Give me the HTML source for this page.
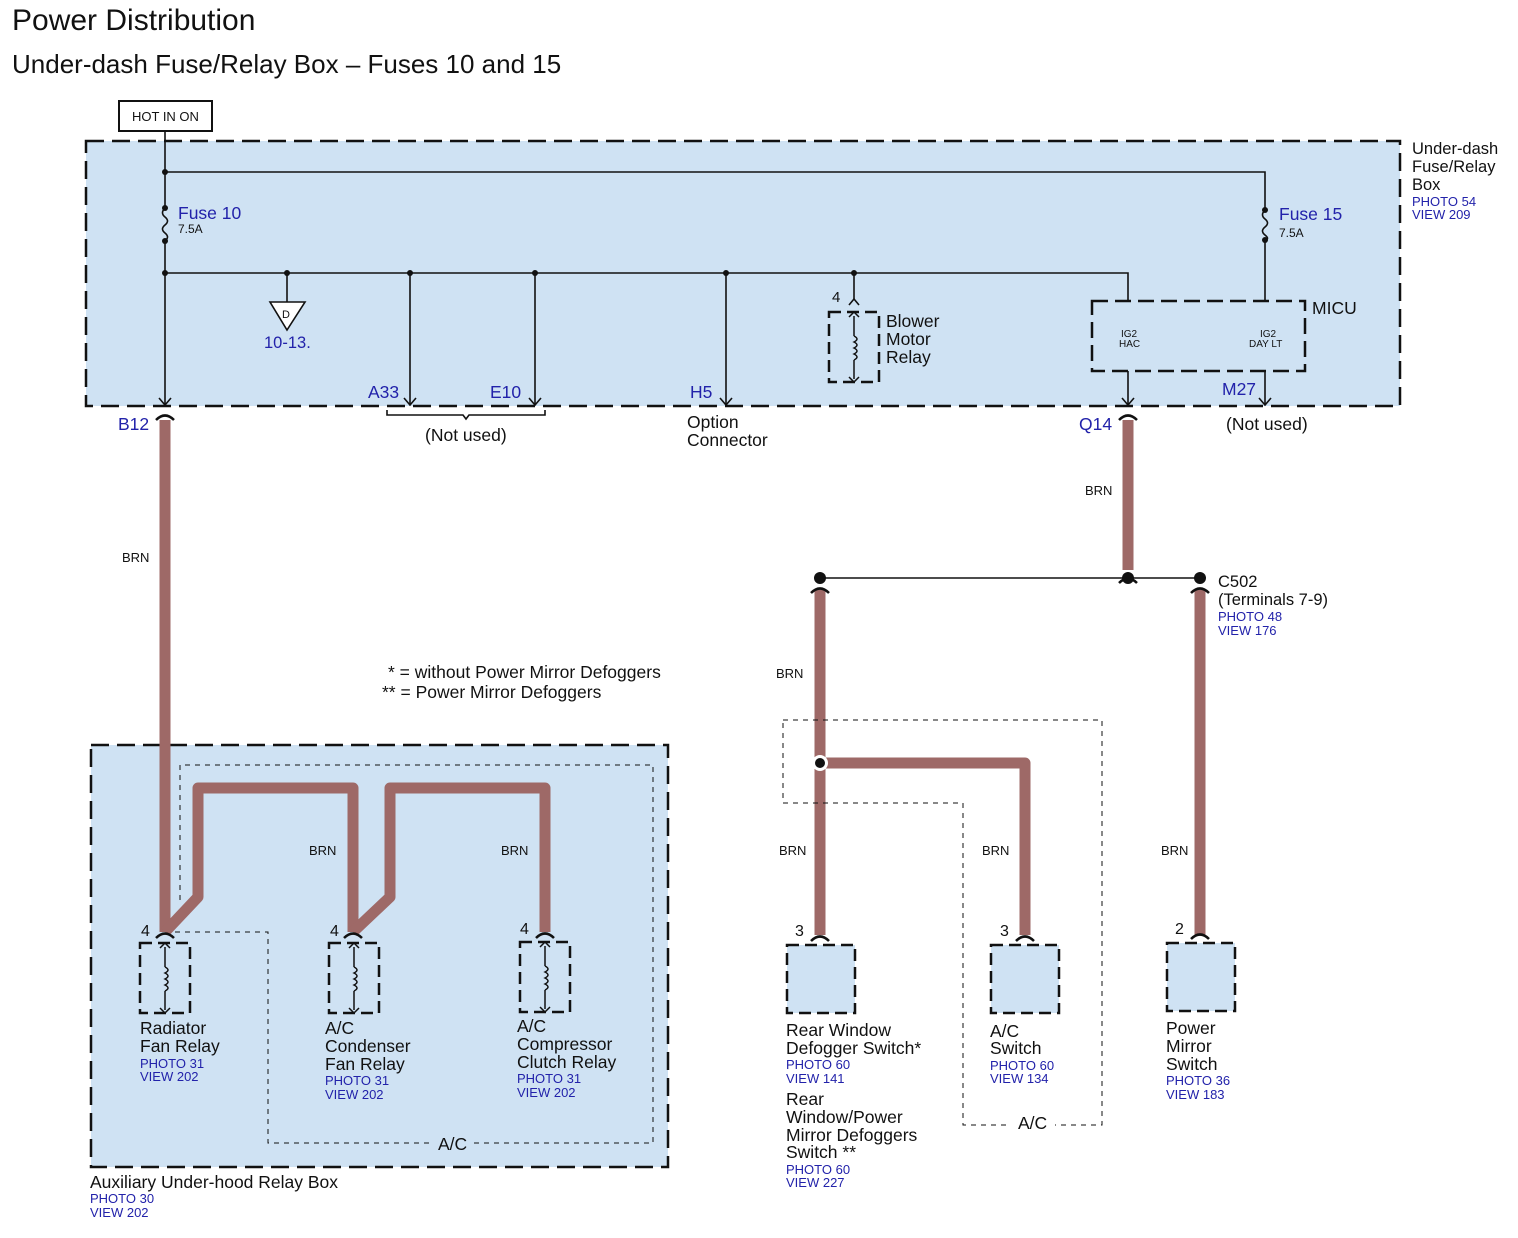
<!DOCTYPE html>
<html><head><meta charset="utf-8"><style>
html,body{margin:0;padding:0;background:#fff;}
svg{display:block;}
text{font-family:"Liberation Sans",Arial,sans-serif;fill:#111;}
.b{fill:#2222aa;}
.s{font-size:13px;}
.m{font-size:17.5px;}
.brn{font-size:13px;fill:#111;}
</style></head><body>
<svg width="1518" height="1238" viewBox="0 0 1518 1238" xmlns="http://www.w3.org/2000/svg">
<defs>
<g id="relay">
<rect x="0" y="0" width="50" height="70" fill="#cfe2f3" stroke="#111" stroke-width="2.5" stroke-dasharray="12,6"/>
<line x1="25" y1="4" x2="25" y2="24" stroke="#111" stroke-width="1.5"/>
<line x1="25" y1="48" x2="25" y2="67" stroke="#111" stroke-width="1.5"/>
<path d="M20,5 L25,0 L30,5 M20,65 L25,70 L30,65" fill="none" stroke="#111" stroke-width="1.5"/>
<path d="M25,24 q6,3 0,6 q6,3 0,6 q6,3 0,6 q6,3 0,6" fill="none" stroke="#111" stroke-width="1.5"/>
</g>
</defs>

<text x="12" y="30" font-size="30">Power Distribution</text>
<text x="12" y="73" font-size="26">Under-dash Fuse/Relay Box – Fuses 10 and 15</text>

<rect x="119" y="101" width="93" height="30" fill="#fff" stroke="#111" stroke-width="2"/>
<text x="132" y="121" font-size="13">HOT IN ON</text>

<!-- Upper box -->
<rect x="86" y="141" width="1314" height="265" fill="#cfe2f3" stroke="#111" stroke-width="2.5" stroke-dasharray="18,8"/>
<text x="1412" y="154" font-size="16.5">Under-dash</text>
<text x="1412" y="172" font-size="16.5">Fuse/Relay</text>
<text x="1412" y="190" font-size="16.5">Box</text>
<text x="1412" y="206" class="b s">PHOTO 54</text>
<text x="1412" y="219" class="b s">VIEW 209</text>

<g stroke="#111" stroke-width="1.6" fill="none">
<line x1="165" y1="131" x2="165" y2="208"/>
<path d="M165,208 q-5,5 0,9 q5,4 0,8 q-5,4 0,8 q5,4 0,8"/>
<line x1="165" y1="241" x2="165" y2="405"/>
<polyline points="165,172 1265,172 1265,210"/>
<path d="M1265,210 q-5,5 0,9 q5,4 0,8 q-5,4 0,8 q5,4 0,5"/>
<line x1="1265" y1="240" x2="1265" y2="301"/>
<polyline points="165,273 1128,273 1128,301"/>
<line x1="287" y1="273" x2="287" y2="302"/>
<line x1="410" y1="273" x2="410" y2="405"/>
<line x1="535" y1="273" x2="535" y2="405"/>
<line x1="726" y1="273" x2="726" y2="405"/>
<line x1="854" y1="273" x2="854" y2="300"/>
<path d="M849,305 L854,299 L859,305"/>
<line x1="1128" y1="371" x2="1128" y2="405"/>
<line x1="1265" y1="371" x2="1265" y2="405"/>
<path d="M159,398 L165,405 L171,398 M404,398 L410,405 L416,398 M529,398 L535,405 L541,398 M720,398 L726,405 L732,398 M1122,398 L1128,405 L1134,398 M1259,398 L1265,405 L1271,398"/>
<path d="M387,410 v5 h76 l3,4 l3,-4 h76 v-5"/>
</g>
<g fill="#111">
<circle cx="165" cy="172" r="3"/><circle cx="165" cy="208" r="3"/><circle cx="165" cy="241" r="3"/>
<circle cx="1265" cy="210" r="3"/><circle cx="1265" cy="240" r="3"/>
<circle cx="165" cy="273" r="3"/><circle cx="287" cy="273" r="3"/><circle cx="410" cy="273" r="3"/>
<circle cx="535" cy="273" r="3"/><circle cx="726" cy="273" r="3"/><circle cx="854" cy="273" r="3"/>
</g>
<text x="178" y="219" class="b" font-size="17.5">Fuse 10</text>
<text x="178" y="233" font-size="12">7.5A</text>
<text x="1279" y="220" class="b" font-size="17.5">Fuse 15</text>
<text x="1279" y="237" font-size="12">7.5A</text>
<polygon points="270,302 305,302 287,330" fill="#fff" stroke="#111" stroke-width="1.6"/>
<text x="282" y="318" font-size="11">D</text>
<text x="264" y="348" class="b" font-size="16.5">10-13.</text>

<use href="#relay" x="829" y="312"/>
<text x="832" y="302" font-size="15">4</text>
<text x="886" y="327" class="m">Blower</text>
<text x="886" y="345" class="m">Motor</text>
<text x="886" y="363" class="m">Relay</text>

<rect x="1092" y="301" width="213" height="70" fill="none" stroke="#111" stroke-width="2.5" stroke-dasharray="16,7"/>
<text x="1312" y="314" class="m">MICU</text>
<text x="1121" y="337" font-size="10">IG2</text>
<text x="1119" y="347" font-size="10">HAC</text>
<text x="1260" y="337" font-size="10">IG2</text>
<text x="1249" y="347" font-size="10">DAY LT</text>

<text x="118" y="430" class="b m">B12</text>
<text x="368" y="398" class="b m">A33</text>
<text x="490" y="398" class="b m">E10</text>
<text x="690" y="398" class="b m">H5</text>
<text x="425" y="441" class="m">(Not used)</text>
<text x="687" y="428" class="m">Option</text>
<text x="687" y="446" class="m">Connector</text>
<text x="1079" y="430" class="b m">Q14</text>
<text x="1222" y="395" class="b m">M27</text>
<text x="1226" y="430" class="m">(Not used)</text>

<!-- Lower left box -->
<rect x="91" y="745" width="577" height="422" fill="#cfe2f3" stroke="#111" stroke-width="2.5" stroke-dasharray="18,8"/>
<path d="M180,900 V765 H653 V1143 H268 V932 H175" fill="none" stroke="#111" stroke-width="1" stroke-dasharray="5,5"/>
<rect x="430" y="1135" width="40" height="18" fill="#cfe2f3"/>
<text x="438" y="1150" class="m">A/C</text>

<!-- Brown wires -->
<g stroke="#9e6967" stroke-width="11" fill="none" stroke-linejoin="round">
<line x1="165" y1="420" x2="165" y2="932"/>
<polyline points="165,932 198,897 198,788 353,788 353,932"/>
<polyline points="353,932 390,897 390,788 545,788 545,932"/>
<line x1="1128" y1="420" x2="1128" y2="570"/>
<line x1="820" y1="590" x2="820" y2="935"/>
<line x1="1200" y1="590" x2="1200" y2="935"/>
<polyline points="820,763 1025,763 1025,935"/>
</g>
<g stroke="#111" stroke-width="2.5" fill="none">
<path d="M156,420 Q165,411 174,420"/>
<path d="M1119,420 Q1128,411 1137,420"/>
<path d="M156,938 Q165,929 174,938"/>
<path d="M344,938 Q353,929 362,938"/>
<path d="M536,938 Q545,929 554,938"/>
<path d="M811,941 Q820,932 829,941"/>
<path d="M1016,941 Q1025,932 1034,941"/>
<path d="M1191,939 Q1200,930 1209,939"/>
<path d="M811,593 Q820,584 829,593"/>
<path d="M1191,593 Q1200,584 1209,593"/>
<path d="M1119,583 Q1128,574 1137,583"/>
</g>
<line x1="820" y1="578" x2="1200" y2="578" stroke="#111" stroke-width="1.6"/>
<circle cx="820" cy="578" r="6" fill="#111"/>
<circle cx="1128" cy="578" r="6" fill="#111"/>
<circle cx="1200" cy="578" r="6" fill="#111"/>

<text x="122" y="562" class="brn">BRN</text>
<text x="1085" y="495" class="brn">BRN</text>
<text x="309" y="855" class="brn">BRN</text>
<text x="501" y="855" class="brn">BRN</text>
<text x="776" y="678" class="brn">BRN</text>
<text x="779" y="855" class="brn">BRN</text>
<text x="982" y="855" class="brn">BRN</text>
<text x="1161" y="855" class="brn">BRN</text>

<use href="#relay" x="140" y="943"/>
<use href="#relay" x="329" y="943"/>
<use href="#relay" x="520" y="942"/>
<text x="141" y="936" font-size="16">4</text>
<text x="330" y="936" font-size="16">4</text>
<text x="520" y="934" font-size="16">4</text>

<text x="140" y="1034" class="m">Radiator</text>
<text x="140" y="1052" class="m">Fan Relay</text>
<text x="140" y="1068" class="b s">PHOTO 31</text>
<text x="140" y="1081" class="b s">VIEW 202</text>
<text x="325" y="1034" class="m">A/C</text>
<text x="325" y="1052" class="m">Condenser</text>
<text x="325" y="1070" class="m">Fan Relay</text>
<text x="325" y="1085" class="b s">PHOTO 31</text>
<text x="325" y="1099" class="b s">VIEW 202</text>
<text x="517" y="1032" class="m">A/C</text>
<text x="517" y="1050" class="m">Compressor</text>
<text x="517" y="1068" class="m">Clutch Relay</text>
<text x="517" y="1083" class="b s">PHOTO 31</text>
<text x="517" y="1097" class="b s">VIEW 202</text>

<text x="90" y="1188" class="m">Auxiliary Under-hood Relay Box</text>
<text x="90" y="1203" class="b s">PHOTO 30</text>
<text x="90" y="1217" class="b s">VIEW 202</text>

<text x="388" y="678" class="m">* = without Power Mirror Defoggers</text>
<text x="382" y="698" class="m">** = Power Mirror Defoggers</text>

<path d="M783,720 H1102 V1125 H963 V803 H783 Z" fill="none" stroke="#111" stroke-width="1" stroke-dasharray="5,5"/>
<rect x="1010" y="1112" width="45" height="20" fill="#fff"/>
<text x="1018" y="1129" class="m">A/C</text>
<circle cx="820" cy="763" r="8" fill="#fff"/>
<circle cx="820" cy="763" r="5" fill="#111"/>

<text x="1218" y="587" font-size="16.5">C502</text>
<text x="1218" y="605" font-size="16.5">(Terminals 7-9)</text>
<text x="1218" y="621" class="b s">PHOTO 48</text>
<text x="1218" y="635" class="b s">VIEW 176</text>

<g fill="#cfe2f3" stroke="#111" stroke-width="2.5" stroke-dasharray="12,6">
<rect x="787" y="945" width="68" height="68"/>
<rect x="991" y="945" width="68" height="68"/>
<rect x="1167" y="943" width="68" height="68"/>
</g>
<text x="795" y="936" font-size="16">3</text>
<text x="1000" y="936" font-size="16">3</text>
<text x="1175" y="934" font-size="16">2</text>

<text x="786" y="1036" class="m">Rear Window</text>
<text x="786" y="1054" class="m">Defogger Switch*</text>
<text x="786" y="1069" class="b s">PHOTO 60</text>
<text x="786" y="1083" class="b s">VIEW 141</text>
<text x="786" y="1105" class="m">Rear</text>
<text x="786" y="1123" class="m">Window/Power</text>
<text x="786" y="1141" class="m">Mirror Defoggers</text>
<text x="786" y="1158" class="m">Switch **</text>
<text x="786" y="1174" class="b s">PHOTO 60</text>
<text x="786" y="1187" class="b s">VIEW 227</text>

<text x="990" y="1037" class="m">A/C</text>
<text x="990" y="1054" class="m">Switch</text>
<text x="990" y="1070" class="b s">PHOTO 60</text>
<text x="990" y="1083" class="b s">VIEW 134</text>

<text x="1166" y="1034" class="m">Power</text>
<text x="1166" y="1052" class="m">Mirror</text>
<text x="1166" y="1070" class="m">Switch</text>
<text x="1166" y="1085" class="b s">PHOTO 36</text>
<text x="1166" y="1099" class="b s">VIEW 183</text>
</svg>
</body></html>
